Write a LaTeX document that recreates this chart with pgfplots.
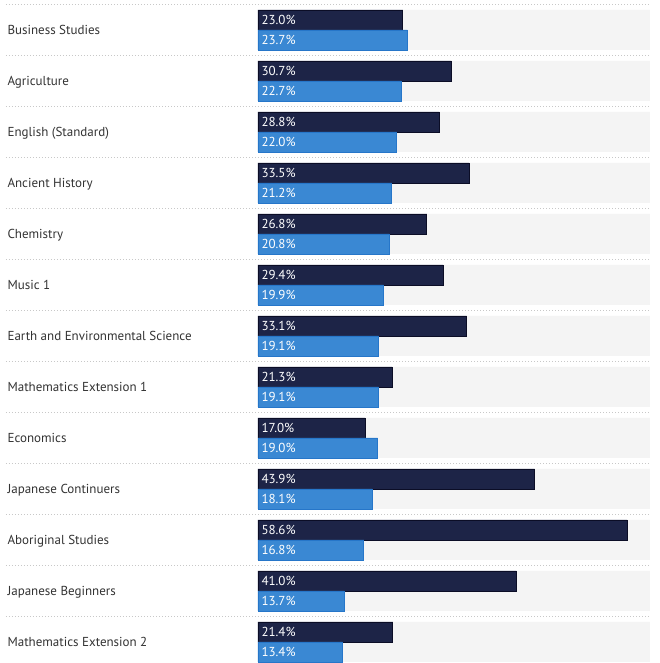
\documentclass[border=0pt]{standalone}
\usepackage{pgfplots}
\pgfplotsset{compat=1.18}
\usepackage{pgfplotstable}
\usepackage{fontspec}
\setmainfont{PT Sans}
\definecolor{darkbar}{HTML}{1D2447}
\definecolor{darkedge}{HTML}{0B0D26}
\definecolor{bluebar}{HTML}{3A88D3}
\definecolor{blueedge}{HTML}{2676C9}
\definecolor{band}{HTML}{F4F4F4}
\definecolor{sep}{HTML}{C8C8C8}
\definecolor{labeltext}{HTML}{333333}
\pgfplotstableread{
y dark blue band
0 23.0 23.7 62.2
1 30.7 22.7 62.2
2 28.8 22.0 62.2
3 33.5 21.2 62.2
4 26.8 20.8 62.2
5 29.4 19.9 62.2
6 33.1 19.1 62.2
7 21.3 19.1 62.2
8 17.0 19.0 62.2
9 43.9 18.1 62.2
10 58.6 16.8 62.2
11 41.0 13.7 62.2
12 21.4 13.4 62.2
}\data
\begin{document}
\begin{tikzpicture}
\begin{axis}[
  width=660pt, height=663pt, scale only axis,
  xmin=-40.952, xmax=63.81, ymin=-0.588, ymax=12.412, y dir=reverse,
  axis line style={draw=none}, tick style={draw=none},
  major tick length=0pt,
  xtick=\empty,
  ytick={0,...,12},
  yticklabels={Business Studies, Agriculture, English (Standard), Ancient History, Chemistry, Music 1, Earth and Environmental Science, Mathematics Extension 1, Economics, Japanese Continuers, Aboriginal Studies, Japanese Beginners, Mathematics Extension 2},
  yticklabel style={anchor=base west, xshift=4pt, yshift=-4.5pt, font=\fontsize{13}{15}\selectfont, text=labeltext},
  /pgf/number format/assume math mode=true,
  clip=false,
  axis background/.style={fill=white},
]
\addplot[xbar, bar width=40pt, bar shift=0pt, fill=band, draw=none] table[x=band, y=y]{\data};
\addplot[xbar, bar width=20pt, bar shift=0pt, fill=darkbar, draw=darkedge, line width=0.8pt] table[x=dark, y expr=\thisrow{y}-0.196]{\data};
\addplot[xbar, bar width=20pt, bar shift=0pt, fill=bluebar, draw=blueedge, line width=0.8pt] table[x=blue, y expr=\thisrow{y}+0.196]{\data};
\addplot[draw=none, mark=none, point meta=explicit,
  nodes near coords={\pgfmathprintnumber[fixed,fixed zerofill,precision=1,assume math mode=true]{\pgfplotspointmeta}\%},
  nodes near coords style={anchor=base west, text=white, font=\fontsize{13}{15}\selectfont, yshift=-4.5pt}]
  table[x expr=0, y expr=\thisrow{y}-0.196, meta=dark]{\data};
\addplot[draw=none, mark=none, point meta=explicit,
  nodes near coords={\pgfmathprintnumber[fixed,fixed zerofill,precision=1,assume math mode=true]{\pgfplotspointmeta}\%},
  nodes near coords style={anchor=base west, text=white, font=\fontsize{13}{15}\selectfont, yshift=-4.5pt}]
  table[x expr=0, y expr=\thisrow{y}+0.196, meta=blue]{\data};
\pgfplotsset{sepline/.style={draw=sep, line width=0.9pt, dash pattern=on 1pt off 2pt, mark=none}}
\addplot[sepline] coordinates {(-40.0,-0.5) (62.2,-0.5)};
\addplot[sepline] coordinates {(-40.0,0.5) (62.2,0.5)};
\addplot[sepline] coordinates {(-40.0,1.5) (62.2,1.5)};
\addplot[sepline] coordinates {(-40.0,2.5) (62.2,2.5)};
\addplot[sepline] coordinates {(-40.0,3.5) (62.2,3.5)};
\addplot[sepline] coordinates {(-40.0,4.5) (62.2,4.5)};
\addplot[sepline] coordinates {(-40.0,5.5) (62.2,5.5)};
\addplot[sepline] coordinates {(-40.0,6.5) (62.2,6.5)};
\addplot[sepline] coordinates {(-40.0,7.5) (62.2,7.5)};
\addplot[sepline] coordinates {(-40.0,8.5) (62.2,8.5)};
\addplot[sepline] coordinates {(-40.0,9.5) (62.2,9.5)};
\addplot[sepline] coordinates {(-40.0,10.5) (62.2,10.5)};
\addplot[sepline] coordinates {(-40.0,11.5) (62.2,11.5)};
\end{axis}
\end{tikzpicture}
\end{document}
